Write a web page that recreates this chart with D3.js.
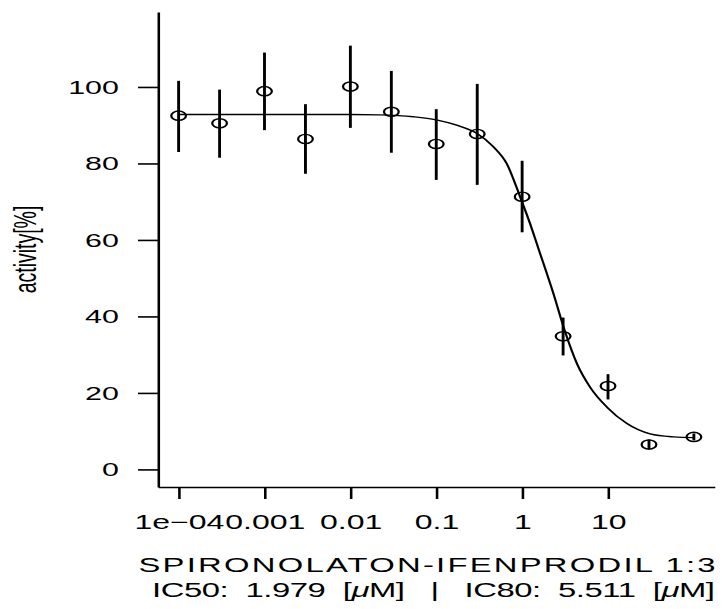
<!DOCTYPE html>
<html>
<head>
<meta charset="utf-8">
<script src="https://cdn.jsdelivr.net/npm/d3@7"></script>
<style>
  html, body { margin: 0; padding: 0; background: #fff; }
  svg { display: block; }
</style>
</head>
<body>
<svg id="chart"></svg>
<script>
// concentrations [uM] and measured activity [%]
const conc = [1e-4, 3e-4, 1e-3, 3e-3, 0.01, 0.03, 0.1, 0.3, 1, 3, 10, 30, 100];
const activity = [92.5, 90.5, 98.9, 86.4, 100.1, 93.5, 85.1, 87.7, 71.3, 34.8, 21.8, 6.5, 8.5];
const errLow = [83.0, 81.5, 88.7, 77.3, 89.3, 82.8, 75.7, 74.4, 62.0, 29.8, 18.3, 5.2, 7.6];
const errHigh = [101.6, 99.3, 109.0, 95.5, 110.8, 104.2, 94.2, 100.8, 80.7, 39.7, 24.9, 7.8, 9.4];

// fitted curve
const fitConc = [1e-4, 1e-3, 0.01, 0.022, 0.054, 0.1, 0.173, 0.295, 0.461, 0.661, 0.946, 1.236, 1.545, 2.31, 3.16, 4.34, 6.19, 9.7, 16.6, 30.9, 58.1, 100];
const fitActivity = [92.8, 92.8, 92.8, 92.7, 92.2, 91.4, 90.0, 87.9, 84.4, 80.0, 71.3, 64.3, 57.8, 46.0, 36.0, 27.7, 21.5, 16.3, 12.0, 9.3, 8.5, 8.3];

const xTickValues = [1e-4, 1e-3, 0.01, 0.1, 1, 10];
const xTickLabels = ["1e\u221204", "0.001", "0.01", "0.1", "1", "10"];
const yTickValues = [0, 20, 40, 60, 80, 100];

const xTitle = "SPIRONOLATON-IFENPRODIL 1:3";

// the original picture is a stretched R plot, so draw in narrow units and stretch
const width = 727;
const height = 609;
const stretch = 1.6;
const w0 = width / stretch;
const font = "'Liberation Sans', Arial, Helvetica, sans-serif";

const svg = d3.select("#chart")
  .attr("width", width)
  .attr("height", height)
  .attr("viewBox", `0 0 ${w0} ${height}`)
  .attr("preserveAspectRatio", "none");

svg.append("rect")
  .attr("width", w0)
  .attr("height", height)
  .attr("fill", "#fff");

const x = d3.scaleLog()
  .domain([Math.pow(10, -4.24), Math.pow(10, 2.24)])
  .range([158 / stretch, 714.5 / stretch]);

const y = d3.scaleLinear()
  .domain([-4.6, 119.6])
  .range([487, 12]);

// axes
const xAxis = svg.append("g")
  .attr("transform", `translate(0,${y.range()[0]})`)
  .call(d3.axisBottom(x)
    .tickValues(xTickValues)
    .tickFormat((d, i) => xTickLabels[i])
    .tickSizeInner(12)
    .tickSizeOuter(0)
    .tickPadding(16));

const yAxis = svg.append("g")
  .attr("transform", `translate(${x.range()[0]},0)`)
  .call(d3.axisLeft(y)
    .tickValues(yTickValues)
    .tickSizeInner(12.5)
    .tickSizeOuter(0)
    .tickPadding(12));

[xAxis, yAxis].forEach(a => {
  a.select(".domain").attr("stroke", "#000").attr("stroke-width", 1.6);
  a.selectAll(".tick line").attr("stroke", "#000").attr("stroke-width", 1.6);
  a.selectAll(".tick text")
    .attr("fill", "#000")
    .style("font-family", font);
});
xAxis.selectAll(".tick text").style("font-size", "20px");
yAxis.selectAll(".tick text").style("font-size", "19px");

// axis titles
svg.append("text")
  .attr("x", 138.5 / stretch)
  .attr("y", 572)
  .attr("textLength", 577 / stretch)
  .attr("lengthAdjust", "spacing")
  .style("font-family", font)
  .style("font-size", "20.5px")
  .attr("fill", "#000")
  .text(xTitle);

const sub = svg.append("text")
  .attr("x", 152 / stretch)
  .attr("y", 597)
  .attr("textLength", 563 / stretch)
  .attr("lengthAdjust", "spacing")
  .style("white-space", "pre")
  .style("font-family", font)
  .style("font-size", "20.5px")
  .attr("fill", "#000");
sub.append("tspan").text("IC50:  1.979  [");
sub.append("tspan").style("font-style", "italic").text("\u03bc");
sub.append("tspan").text("M]   |   IC80:  5.511  [");
sub.append("tspan").style("font-style", "italic").text("\u03bc");
sub.append("tspan").text("M]");

svg.append("text")
  .attr("transform", `translate(${36 / stretch},${(y.range()[0] + y.range()[1]) / 2}) rotate(-90)`)
  .attr("text-anchor", "middle")
  .style("font-family", font)
  .style("font-size", "19.5px")
  .attr("fill", "#000")
  .text("activity[%]");

// fitted curve
const line = d3.line()
  .x(d => x(d[0]))
  .y(d => y(d[1]))
  .curve(d3.curveMonotoneX);

svg.append("path")
  .datum(fitConc.map((c, i) => [c, fitActivity[i]]))
  .attr("d", line)
  .attr("fill", "none")
  .attr("stroke", "#000")
  .attr("stroke-width", 1.4);

// error bars
svg.append("g")
  .selectAll("line")
  .data(conc)
  .enter()
  .append("line")
  .attr("x1", d => x(d))
  .attr("x2", d => x(d))
  .attr("y1", (d, i) => y(errLow[i]))
  .attr("y2", (d, i) => y(errHigh[i]))
  .attr("stroke", "#000")
  .attr("stroke-width", 1.8);

// points
svg.append("g")
  .selectAll("circle")
  .data(conc)
  .enter()
  .append("circle")
  .attr("cx", d => x(d))
  .attr("cy", (d, i) => y(activity[i]))
  .attr("r", 4.6)
  .attr("fill", "none")
  .attr("stroke", "#000")
  .attr("stroke-width", 1.4);
</script>
</body>
</html>
